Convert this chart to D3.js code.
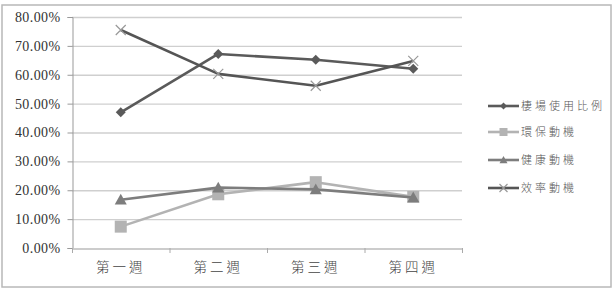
<!DOCTYPE html>
<html><head><meta charset="utf-8">
<script src="https://cdn.jsdelivr.net/npm/d3@7"></script>
<style>body{margin:0;background:#fff}svg{display:block}</style>
</head><body>
<script>
const categories = ["第一週", "第二週", "第三週", "第四週"];
const seriesNames = ["棲場使用比例", "環保動機", "健康動機", "效率動機"];
const habitatUse = [0.47, 0.672, 0.652, 0.621];
const ecoMotive = [0.074, 0.186, 0.228, 0.177];
const healthMotive = [0.167, 0.209, 0.203, 0.175];
const efficiencyMotive = [0.755, 0.603, 0.562, 0.648];
const yTicks = [0, 0.1, 0.2, 0.3, 0.4, 0.5, 0.6, 0.7, 0.8];

const series = [
  {name: seriesNames[0], values: habitatUse, color: "#5a5a5a", marker: "diamond"},
  {name: seriesNames[1], values: ecoMotive, color: "#b3b3b3", marker: "square"},
  {name: seriesNames[2], values: healthMotive, color: "#7d7d7d", marker: "triangle"},
  {name: seriesNames[3], values: efficiencyMotive, color: "#555555", marker: "x"}
];

const W = 615, H = 289;
const svg = d3.select("body").append("svg").attr("width", W).attr("height", H);
svg.append("rect").attr("x", 2).attr("y", 5).attr("width", 609).attr("height", 282)
  .attr("fill", "#fff").attr("stroke", "#b8b8b8").attr("stroke-width", 1.5);

const x0 = 72, x1 = 462, yTop = 17, yBot = 248;
const x = d3.scaleBand().domain(categories).range([x0, x1]);
const y = d3.scaleLinear().domain([0, 0.8]).range([yBot, yTop]);

// gridlines
svg.append("g").selectAll("line").data(yTicks.filter(d => d > 0)).join("line")
  .attr("x1", x0).attr("x2", x1).attr("y1", d => y(d) + 0.5).attr("y2", d => y(d) + 0.5)
  .attr("stroke", "#cfcfcf").attr("stroke-width", 1.3);

// y axis
const yAxis = svg.append("g").attr("transform", `translate(${x0 + 0.5},0)`)
  .call(d3.axisLeft(y).tickValues(yTicks).tickFormat(d => d3.format(".2f")(d * 100) + "%").tickSize(5).tickPadding(7));
yAxis.select(".domain").attr("stroke", "#999");
yAxis.selectAll(".tick line").attr("stroke", "#999");
yAxis.selectAll(".tick text").attr("font-family", "Liberation Serif, serif").attr("font-size", 14)
  .attr("letter-spacing", 0.4).attr("fill", "#333");

// x axis
const xAxis = svg.append("g").attr("transform", `translate(0,${yBot + 0.5})`)
  .call(d3.axisBottom(x).tickSize(0).tickPadding(14));
xAxis.select(".domain").attr("stroke", "#bbb").attr("stroke-width", 1.5);
xAxis.selectAll(".tick text").attr("font-family", "Noto Sans CJK TC, sans-serif").attr("font-size", 13.5)
  .attr("letter-spacing", 3).attr("fill", "#444").attr("font-weight", 300);
// category boundary ticks
svg.append("g").selectAll("line").data(d3.range(categories.length + 1)).join("line")
  .attr("x1", i => x0 + i * x.bandwidth() + 0.5).attr("x2", i => x0 + i * x.bandwidth() + 0.5)
  .attr("y1", yBot).attr("y2", yBot + 5).attr("stroke", "#aaa");

const cx = c => x(c) + x.bandwidth() / 2;
const line = d3.line().x((d, i) => cx(categories[i])).y(d => y(d));

function drawMarker(g, type, color, px, py, s) {
  if (type === "diamond") {
    g.append("path").attr("d", `M${px},${py - s}L${px + s},${py}L${px},${py + s}L${px - s},${py}Z`).attr("fill", color);
  } else if (type === "square") {
    g.append("rect").attr("x", px - s).attr("y", py - s).attr("width", 2 * s).attr("height", 2 * s).attr("fill", color);
  } else if (type === "triangle") {
    g.append("path").attr("d", `M${px},${py - s}L${px + s},${py + s * 0.8}L${px - s},${py + s * 0.8}Z`).attr("fill", color);
  } else {
    g.append("path").attr("d", `M${px - s},${py - s}L${px + s},${py + s}M${px - s},${py + s}L${px + s},${py - s}`)
      .attr("stroke", "#999").attr("stroke-width", 1.2).attr("fill", "none");
  }
}
const markerSize = {diamond: 5, square: 6, triangle: 6, x: 5};

series.forEach(s => {
  const g = svg.append("g");
  g.append("path").datum(s.values).attr("d", line).attr("fill", "none")
    .attr("stroke", s.color).attr("stroke-width", 2.6).attr("stroke-linejoin", "round");
  s.values.forEach((v, i) => drawMarker(g, s.marker, s.color, cx(categories[i]), y(v), markerSize[s.marker]));
});

// legend
const legendY = [106, 132, 160, 188];
series.forEach((s, i) => {
  const g = svg.append("g").attr("transform", `translate(488,${legendY[i]})`);
  g.append("line").attr("x1", 0).attr("x2", 31).attr("y1", 0).attr("y2", 0).attr("stroke", s.color).attr("stroke-width", 2.6);
  drawMarker(g, s.marker, s.color, 15.5, 0, s.marker === "diamond" ? 3.5 : 4);
  g.append("text").attr("x", 33).attr("y", 4).text(s.name)
    .attr("font-family", "Noto Sans CJK TC, sans-serif").attr("font-size", 11).attr("font-weight", 300)
    .attr("letter-spacing", 3).attr("fill", "#555");
});
</script>
</body></html>
